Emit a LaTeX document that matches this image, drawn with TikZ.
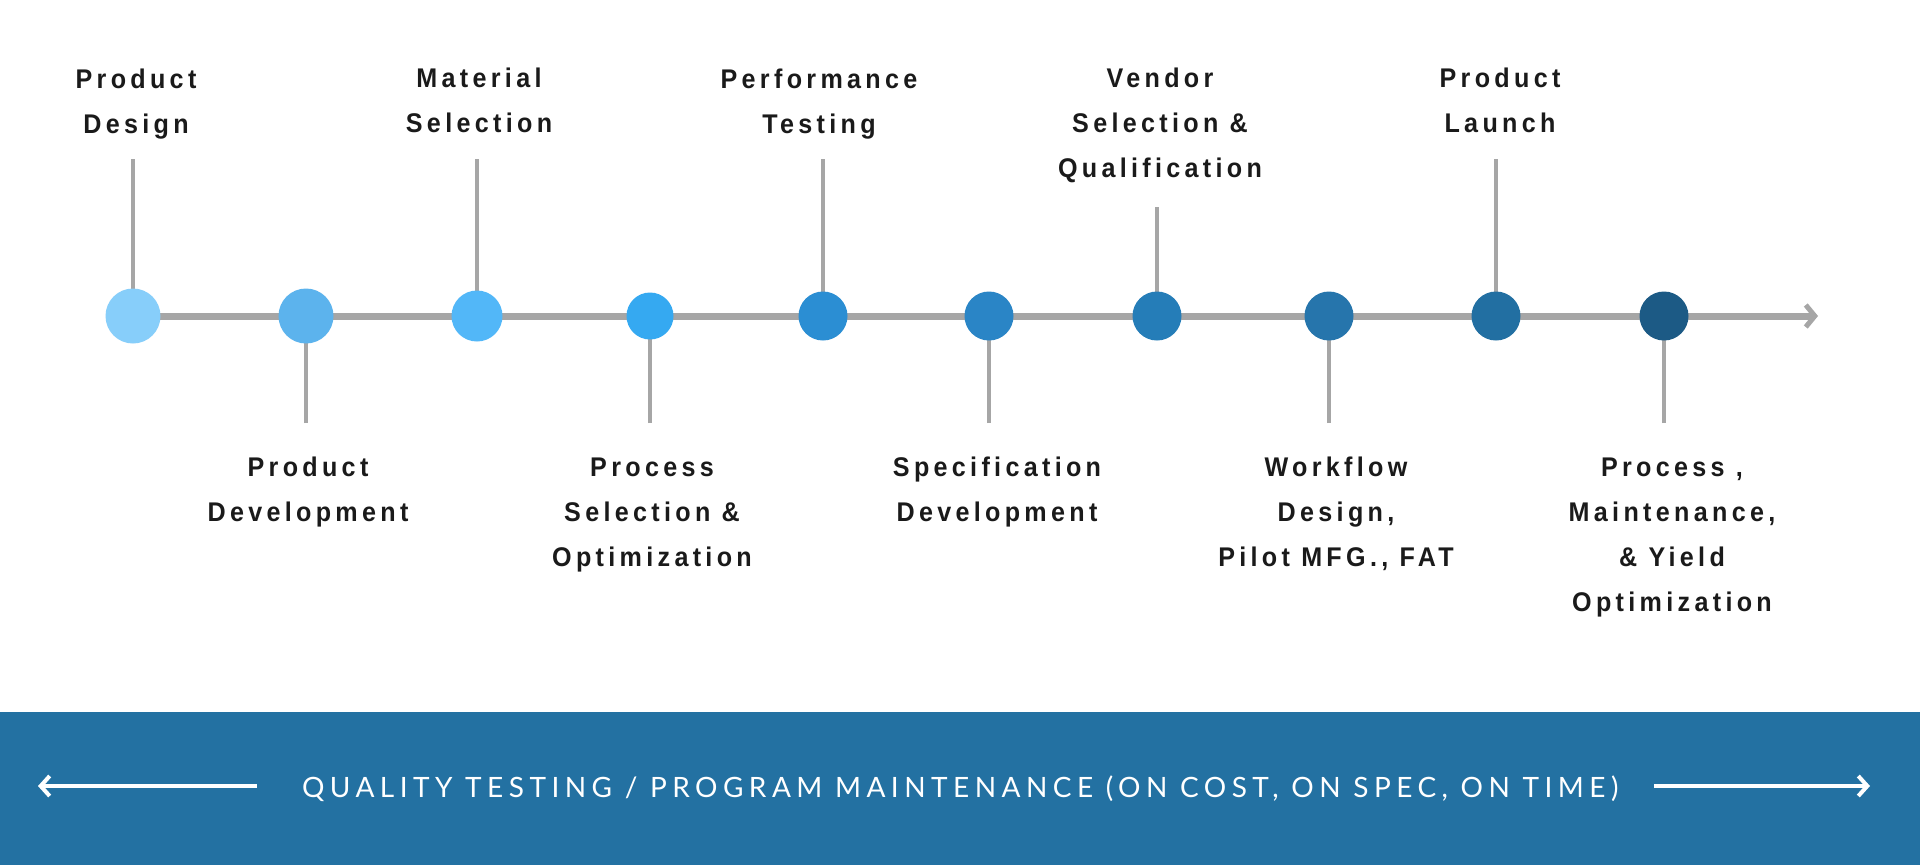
\documentclass[tikz,border=0pt]{standalone}
\usepackage{fontspec}
\usetikzlibrary{arrows.meta}
\setmainfont{Liberation Sans}
\newfontfamily\lblfont[FakeStretch=0.93,LetterSpace=16]{Liberation Sans}
\newfontfamily\bandfont[LetterSpace=19.5]{Lato}
\definecolor{stemgray}{HTML}{A6A6A6}
\definecolor{txt}{HTML}{1A1A1A}
\definecolor{band}{HTML}{2371A2}
\definecolor{cA}{HTML}{87CEFA}
\definecolor{cB}{HTML}{5CB3ED}
\definecolor{cC}{HTML}{52B7F8}
\definecolor{cD}{HTML}{35A9F1}
\definecolor{cE}{HTML}{2B8ED3}
\definecolor{cF}{HTML}{2A85C6}
\definecolor{cG}{HTML}{257DB8}
\definecolor{cH}{HTML}{2675AC}
\definecolor{cI}{HTML}{226FA2}
\definecolor{cJ}{HTML}{1C5A85}
\begin{document}
\begin{tikzpicture}[x=1pt,y=-1pt,
  dot/.style={circle,inner sep=0pt,minimum size=#1},
  stem/.style={draw=stemgray,line width=4.5pt},
  axis/.style={draw=stemgray,line width=7pt},
  lbl/.style={anchor=base,inner sep=0pt,text=txt,font=\lblfont\bfseries\fontsize{27}{45}\selectfont},
  bandtxt/.style={anchor=base,inner sep=0pt,text=white,font=\bandfont\fontsize{28}{34}\selectfont},
  bandarrow/.style={draw=white,line width=4pt,-{Straight Barb[length=9pt,width=20pt,line width=4pt]}}
]
\useasboundingbox (0,0) rectangle (1920,865);
\fill[white] (0,0) rectangle (1920,865);
% band
\fill[band] (0,712) rectangle (1920,865);
% axis
\coordinate (axstart) at (133,316);
\coordinate (axend) at (1818,316);
\draw[axis,-{Straight Barb[length=9pt,width=22pt,line width=5pt]}] (axstart) -- (axend);
% top stems endpoints
\coordinate (t1) at (133,159);
\coordinate (t3) at (477,159);
\coordinate (t5) at (823,159);
\coordinate (t7) at (1157,207);
\coordinate (t9) at (1496,159);
% bottom stems endpoints
\coordinate (b2) at (306,423);
\coordinate (b4) at (650,423);
\coordinate (b6) at (989,423);
\coordinate (b8) at (1329,423);
\coordinate (b10) at (1664,423);
\draw[stem] (t1) -- (133,316);
\draw[stem] (t3) -- (477,316);
\draw[stem] (t5) -- (823,316);
\draw[stem] (t7) -- (1157,316);
\draw[stem] (t9) -- (1496,316);
\draw[stem] (b2) -- (306,316);
\draw[stem] (b4) -- (650,316);
\draw[stem] (b6) -- (989,316);
\draw[stem] (b8) -- (1329,316);
\draw[stem] (b10) -- (1664,316);
% circles
\node[dot=55pt,fill=cA] (c1) at (133,316) {};
\node[dot=55pt,fill=cB] (c2) at (306,316) {};
\node[dot=51pt,fill=cC] (c3) at (477,316) {};
\node[dot=47pt,fill=cD] (c4) at (650,316) {};
\node[dot=49pt,fill=cE] (c5) at (823,316) {};
\node[dot=49pt,fill=cF] (c6) at (989,316) {};
\node[dot=49pt,fill=cG] (c7) at (1157,316) {};
\node[dot=49pt,fill=cH] (c8) at (1329,316) {};
\node[dot=49pt,fill=cI] (c9) at (1496,316) {};
\node[dot=49pt,fill=cJ] (c10) at (1664,316) {};
% top labels
\node[lbl] (l1) at (136,88) {\begin{tabular}[t]{@{}c@{}}Product\\Design\end{tabular}};
\node[lbl] (l3) at (479,87) {\begin{tabular}[t]{@{}c@{}}Material\\Selection\end{tabular}};
\node[lbl] (l5) at (819,88) {\begin{tabular}[t]{@{}c@{}}Performance\\Testing\end{tabular}};
\node[lbl] (l7) at (1160,87) {\begin{tabular}[t]{@{}c@{}}Vendor\\Selection \&\\Qualification\end{tabular}};
\node[lbl] (l9) at (1500,87) {\begin{tabular}[t]{@{}c@{}}Product\\Launch\end{tabular}};
% bottom labels
\node[lbl] (l2) at (308,476) {\begin{tabular}[t]{@{}c@{}}Product\\Development\end{tabular}};
\node[lbl] (l4) at (652,476) {\begin{tabular}[t]{@{}c@{}}Process\\Selection \&\\Optimization\end{tabular}};
\node[lbl] (l6) at (997,476) {\begin{tabular}[t]{@{}c@{}}Specification\\Development\end{tabular}};
\node[lbl] (l8) at (1336,476) {\begin{tabular}[t]{@{}c@{}}Workflow\\Design,\\Pilot MFG., FAT\end{tabular}};
\node[lbl] (l10) at (1672,476) {\begin{tabular}[t]{@{}c@{}}Process ,\\Maintenance,\\\& Yield\\Optimization\end{tabular}};
% band
\node[bandtxt] (bt) at (960,797) {QUALITY TESTING / PROGRAM MAINTENANCE (ON COST, ON SPEC, ON TIME)};
\coordinate (la1) at (257,786);
\coordinate (la2) at (38,786);
\coordinate (ra1) at (1654,786);
\coordinate (ra2) at (1870,786);
\draw[bandarrow] (la1) -- (la2);
\draw[bandarrow] (ra1) -- (ra2);
\end{tikzpicture}
\end{document}
